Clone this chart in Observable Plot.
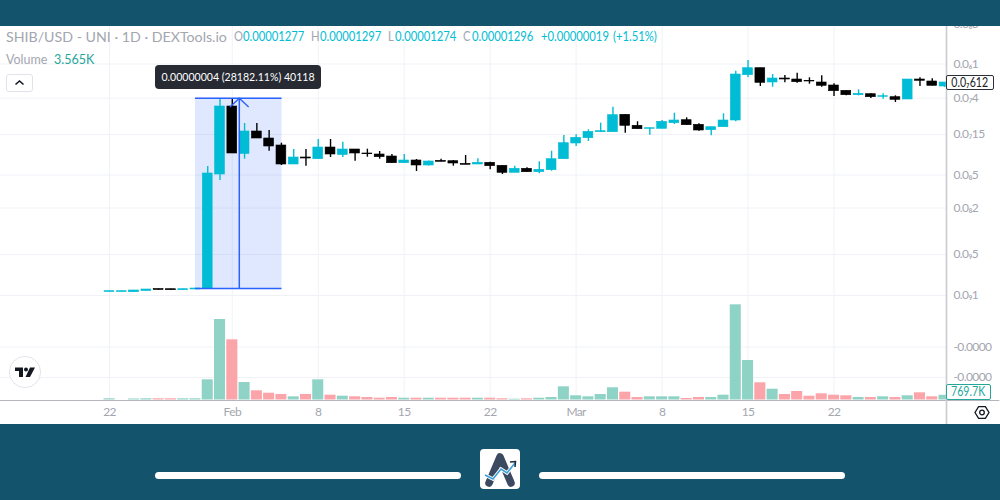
<!DOCTYPE html>
<html>
<head>
<meta charset="utf-8">
<script src="https://cdn.jsdelivr.net/npm/d3@7"></script>
<script src="https://cdn.jsdelivr.net/npm/@observablehq/plot@0.6"></script>
<style>
html,body{margin:0;padding:0;background:#14536c;}
#page{position:relative;width:1000px;height:500px;overflow:hidden;background:#14536c;font-family:"Lato",sans-serif;}
#panel{position:absolute;left:0;top:26px;width:1000px;height:398px;background:#fff;}
#chart{position:absolute;left:0;top:0;width:1000px;height:500px;}
#chart svg{background:transparent;}
#band{position:absolute;left:0;top:0;width:1000px;height:26px;background:#14536c;}
.t{position:absolute;white-space:nowrap;line-height:1;transform-origin:left center;}
.h{top:31px;font-size:12.5px;transform:scaleX(.9);}
.cy{color:#00bcd4;}.gr{color:#a3a6af;}
.box{position:absolute;box-sizing:border-box;}
.sq{display:inline-block;transform-origin:center center;}
.pill{position:absolute;top:472px;height:7px;background:#fff;border-radius:4px;}
</style>
</head>
<body>
<div id="page">
  <div id="panel"></div>
  <div id="chart"></div>
  <div id="band"></div>

  <div class="t gr" style="left:6px;top:30px;font-size:14.2px;">SHIB/USD - UNI · 1D · DEXTools.io</div>
  <div class="t gr h" style="left:234px;">O</div>
  <div class="t cy h" style="left:243px;">0.00001277</div>
  <div class="t gr h" style="left:311px;">H</div>
  <div class="t cy h" style="left:320px;">0.00001297</div>
  <div class="t gr h" style="left:388px;">L</div>
  <div class="t cy h" style="left:395px;">0.00001274</div>
  <div class="t gr h" style="left:463px;">C</div>
  <div class="t cy h" style="left:472px;">0.00001296</div>
  <div class="t cy h" style="left:541px;">+0.00000019</div>
  <div class="t cy h" style="left:613px;">(+1.51%)</div>
  <div class="t gr" style="left:6px;top:54px;font-size:12.5px;">Volume</div>
  <div class="t" style="left:54px;top:54px;font-size:12.5px;color:#26a69a;">3.565K</div>

  <div class="box" style="left:6px;top:74px;width:27px;height:18px;border:1px solid #e0e3eb;border-radius:3px;background:#fff;">
    <svg width="25" height="16" style="display:block"><path d="M8.5 9.5 L12.5 6 L16.5 9.5" fill="none" stroke="#131722" stroke-width="1.6"/></svg>
  </div>

  <div class="box" style="left:154.5px;top:64.5px;width:166px;height:24px;background:#272a33;border-radius:4px;color:#fff;font-size:12px;line-height:24px;text-align:center;white-space:nowrap;"><span class="sq" style="transform:scaleX(.88);margin:0 -12px;">0.00000004 (28182.11%) 40118</span></div>

  <div class="box" style="left:946px;top:74.5px;width:48px;height:15px;background:#fff;border:1px solid #2a2e39;border-radius:2px;color:#222;font-size:12.5px;line-height:13px;text-align:center;white-space:nowrap;"><span class="sq" style="transform:scaleX(.85);margin:0 -5px;">0.0₇612</span></div>
  <div class="box" style="left:946px;top:383.5px;width:45px;height:16px;background:#fff;border:1px solid #26a69a;border-radius:2px;color:#26a69a;font-size:12.5px;line-height:14px;text-align:center;white-space:nowrap;"><span class="sq" style="transform:scaleX(.85);margin:0 -5px;">769.7K</span></div>

  <svg class="box" style="left:974px;top:404px;" width="16" height="17" viewBox="0 0 16 17">
    <path d="M4.6 2.6 H11.4 L15 8.5 L11.4 14.4 H4.6 L1 8.5 Z" fill="none" stroke="#131722" stroke-width="1.3"/>
    <circle cx="8" cy="8.5" r="2.3" fill="none" stroke="#131722" stroke-width="1.3"/>
  </svg>

  <svg class="box" style="left:8px;top:355px;" width="34" height="34" viewBox="0 0 34 34">
    <circle cx="17" cy="17" r="15.6" fill="#fff" stroke="#e2e4ea" stroke-width="1"/>
    <path d="M7 12.5 H15 V22 H11 V16 H7 Z" fill="#131722"/>
    <circle cx="18" cy="14.5" r="2" fill="#131722"/>
    <path d="M22 12.5 H27 L22 22 H17.5 Z" fill="#131722"/>
  </svg>

  <div class="pill" style="left:155px;width:306px;"></div>
  <div class="pill" style="left:539px;width:306px;"></div>
  <svg class="box" style="left:480px;top:449px;" width="40" height="40" viewBox="0 0 40 40">
    <rect width="40" height="40" rx="4" fill="#fff"/>
    <path d="M9 34 L20 8 L31 34" fill="none" stroke="#3b4a60" stroke-width="7.5" stroke-linejoin="round" stroke-linecap="round"/>
    <path d="M5 26 L13 30 L21 20 L27 24 L35 14" fill="none" stroke="#fff" stroke-width="3.4"/>
    <path d="M5 26 L13 30 L21 20 L27 24 L35 14" fill="none" stroke="#3b9fd8" stroke-width="1.6"/>
    <path d="M30 13 L35.5 12.5 L35 18" fill="none" stroke="#1c2a3a" stroke-width="1.5"/>
  </svg>
</div>
<script>
// Price values are log-price readings, in chart units above the 0.0₉1 level.
const open  = [3.5,3.5,3.3,4.5,6.5,6.3,5.3,6,7,121,189,141.5,164,157,150,131,138,136.3,148,140.5,146,142,141,139,132.3,135,130,134.7,134.3,131.7,131,132.7,129.7,122.7,126.7,123.3,125.3,136.3,152,157.3,163.3,163.3,180.7,169.7,166.7,166.7,172.3,175.3,170.7,165.3,168.3,175,220.3,227.3,213,217,216,214.7,213,210,204.7,200.3,201.3,198.7,198.3,196,216,214,209];
const high  = [4.3,4.3,5,6,6.5,6.3,6.3,7,129,197,197,172,172,165,152.3,146,146,156,156,153.3,146,146.3,144,141,141,136,134.5,136.3,135,140,136.7,133.3,129.7,129.3,127.7,133.7,144.3,160,160.7,165.7,172.3,188.3,180.7,173.7,167.3,175,182.3,177.7,171.7,168.3,181.7,224.3,235,227.3,221,220,222.3,217.7,219.7,211.7,204.7,205.7,201.7,201.7,199.7,216,217.7,216.7,213];
const low   = [3.5,3.5,3.3,4.5,5.5,5.3,5.3,6,6,115,142,136.3,157,144.3,130,131,129.3,136.3,138,138,134.3,138.3,136.3,132.3,132,124,129.5,133.7,129.3,130.7,131,125.7,121,122.7,123.3,121.7,124.3,136.3,149,154,163.3,163.3,162.3,166.3,160.3,166.7,171,170.3,164.3,159.7,168.3,173.7,217.7,209,208.3,212.7,212.3,211.3,208.3,199,199.7,199.7,197,196.3,193,196,209,209.7,208];
const close = [4.3,4.3,5,6,5.5,5.3,6.3,7,122,189,142,164,157,149,131,138,137,148,141,146,142,141.3,138.3,132.3,135,130,134,133.7,132,130.7,132.7,129.3,122.7,126.7,123.3,125.7,136.3,152.3,157.7,163.7,164.3,180.3,169.7,166.3,167.3,173.7,175,170.3,165,168.3,175,221,227.3,212.7,217,216,213.3,214,209.7,204.3,200.3,201.7,198.3,199.3,195.7,216,214.7,209.7,213];
// Daily volume, in thousands
const volume = [200,0,165,200,200,200,200,200,3310,13200,9870,2870,1510,1115,900,525,900,3310,790,625,525,410,295,410,295,295,295,295,295,295,295,295,200,130,200,295,410,2165,690,525,900,2000,1280,410,525,525,525,245,410,410,790,15610,6480,2820,1770,900,1395,625,1015,790,690,410,410,525,410,690,1180,525,770];

const dayTicks = [0,10,17,24,31,38,45,52,59];
const dayLabels = ["22","Feb","8","15","22","Mar","8","15","22"];
const priceTicks = [271,231.5,197.3,161,120.5,87.5,41,0,-51.5,-82];
const priceLabels = ["0.0₆3","0.0₆1","0.0₇4","0.0₇15","0.0₈5","0.0₈2","0.0₉5","0.0₉1","-0.0000","-0.0000"];
const gridLevels = [231.5,197.3,161,120.5,87.5,41,0,-51.5,-82];

const measureBox = {x1:7, x2:14.05, y1:7, y2:197.3};
const arrowDay = 10.57;

const UP = "#00bcd4", DOWN = "#000000";
const VOL_UP = "#8fd3c6", VOL_DOWN = "#fba4a9";

const candles = open.map((o,i)=>({day:i,o,h:high[i],l:low[i],c:close[i],v:volume[i]}));
const volumeBase = -104.5, kPerUnit = 164;
const volBars = candles.filter(d=>d.v>0);

const plot = Plot.plot({
  width:1000, height:500,
  marginLeft:0, marginRight:54, marginTop:26, marginBottom:100,
  style:{background:"transparent", fontFamily:'"Lato",sans-serif', fontSize:"12px", letterSpacing:"-0.6px"},
  x:{type:"linear", domain:[-8.876,68.16], label:null},
  y:{type:"linear", domain:[-105,269], label:null},
  marks:[
    Plot.ruleX(dayTicks,{stroke:"#f0f2f7",strokeWidth:1}),
    Plot.ruleY(gridLevels,{stroke:"#f0f2f7",strokeWidth:1}),
    Plot.rect(volBars,{
      x1:d=>d.day-0.45, x2:d=>d.day+0.45,
      y1:volumeBase, y2:d=>volumeBase+d.v/kPerUnit,
      fill:d=>d.c>=d.o?VOL_UP:VOL_DOWN, clip:true
    }),
    Plot.rect([measureBox],{x1:"x1",x2:"x2",y1:"y1",y2:"y2",fill:"#2962ff",fillOpacity:0.15}),
    Plot.ruleX(candles,{x:"day",y1:"l",y2:"h",stroke:d=>d.c>=d.o?UP:DOWN,strokeWidth:1.4,clip:true}),
    Plot.rect(candles,{
      x1:d=>d.day-0.4, x2:d=>d.day+0.4, y1:"o", y2:"c",
      fill:d=>d.c>=d.o?UP:DOWN, stroke:d=>d.c>=d.o?UP:DOWN, strokeWidth:0.6, clip:true
    }),
    Plot.ruleY([measureBox.y1,measureBox.y2],{x1:measureBox.x1,x2:measureBox.x2,stroke:"#2962ff",strokeWidth:1.4}),
    Plot.ruleX([arrowDay],{y1:measureBox.y1,y2:measureBox.y2,stroke:"#2962ff",strokeWidth:1.5}),
    Plot.link([-0.76,0.76],{x1:d=>arrowDay+d,y1:188.5,x2:arrowDay,y2:measureBox.y2,stroke:"#2962ff",strokeWidth:1.4}),
    Plot.ruleY([-105],{stroke:"#b4b6bc",strokeWidth:1.2,x1:-8.876,x2:72.5,clip:false}),
    Plot.ruleX([68.16],{y1:-129,y2:269,stroke:"#c9cbd0",strokeWidth:1.6}),
    Plot.axisX({ticks:dayTicks,tickFormat:d=>dayLabels[dayTicks.indexOf(d)],tickSize:0,tickPadding:7,label:null,fill:"#a3a6af",anchor:"bottom"}),
    Plot.axisY({ticks:priceTicks,tickFormat:d=>priceLabels[priceTicks.indexOf(d)],tickSize:0,tickPadding:7,label:null,fill:"#a3a6af",anchor:"right"})
  ]
});
document.getElementById("chart").appendChild(plot);
</script>
</body>
</html>
